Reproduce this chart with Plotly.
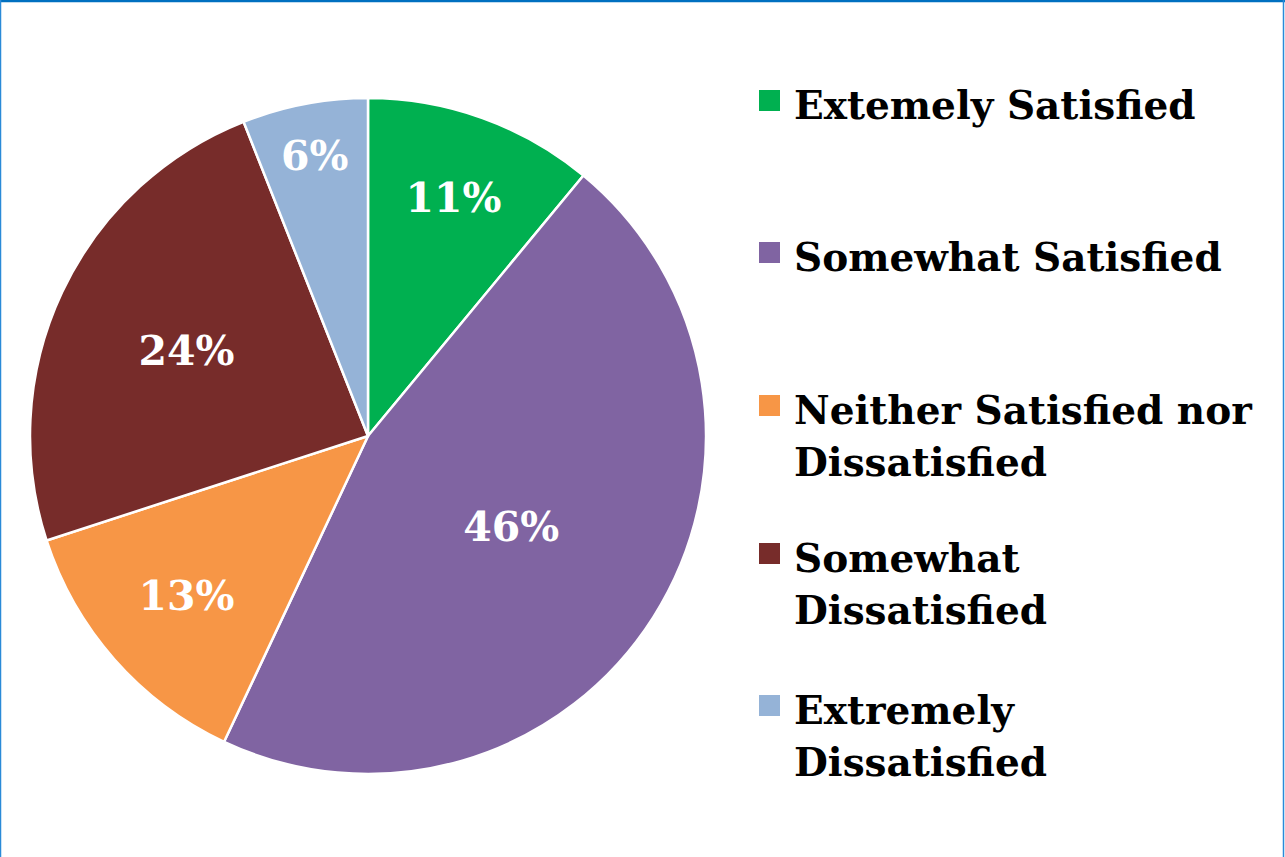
import plotly.graph_objects as go

categories = ["Extemely Satisfied", "Somewhat Satisfied",
              "Neither Satisfied nor<br>Dissatisfied",
              "Somewhat<br>Dissatisfied", "Extremely<br>Dissatisfied"]
values = [11, 46, 13, 24, 6]
colors = ["#00B050", "#8064A2", "#F79646", "#772C2A", "#95B3D7"]

W, H = 1285, 857
FONT = "DejaVu Serif"

def px(x):
    return x / W

def py(y):
    return 1 - y / H

fig = go.Figure()
fig.add_trace(go.Pie(
    labels=[c.replace("<br>", " ") for c in categories],
    values=values,
    sort=False,
    direction="clockwise",
    rotation=0,
    marker=dict(colors=colors, line=dict(color="white", width=2.5)),
    texttemplate="%{percent:.0%}",
    textposition="inside",
    insidetextorientation="horizontal",
    textfont=dict(family=FONT, size=41, color="white", weight="bold"),
    domain=dict(x=[px(30), px(706)], y=[py(774), py(98)]),
    showlegend=False,
))

# legend drawn as annotations + squares
legend_first_line_y = [105, 257, 410, 558, 710]
line_gap = 52
shapes = []
annotations = []
for i, (cat, col) in enumerate(zip(categories, colors)):
    y0 = legend_first_line_y[i]
    shapes.append(dict(type="rect", xref="paper", yref="paper",
                       x0=px(759), x1=px(780), y0=py(y0 - 15), y1=py(y0 + 6),
                       fillcolor=col, line=dict(width=0)))
    for j, line in enumerate(cat.split("<br>")):
        annotations.append(dict(
            text=line, xref="paper", yref="paper",
            x=px(792), y=py(y0 + j * line_gap), xanchor="left", yanchor="middle",
            showarrow=False,
            font=dict(family=FONT, size=39, color="black", weight="bold")))

# frame
shapes += [
    dict(type="line", xref="paper", yref="paper", x0=0, x1=1, y0=py(1), y1=py(1),
         line=dict(color="#0070C0", width=2.5)),
    dict(type="line", xref="paper", yref="paper", x0=px(0.5), x1=px(0.5), y0=0, y1=1,
         line=dict(color="#2A8AD8", width=1.5)),
    dict(type="line", xref="paper", yref="paper", x0=px(1283.5), x1=px(1283.5), y0=0, y1=1,
         line=dict(color="#2A8AD8", width=1.5)),
]

fig.update_layout(
    width=W, height=H,
    margin=dict(l=0, r=0, t=0, b=0),
    paper_bgcolor="white", plot_bgcolor="white",
    shapes=shapes, annotations=annotations,
)
fig.write_html("out.html", config={"displayModeBar": False},
               post_script="document.body.style.margin='0';document.body.style.overflow='hidden';")
